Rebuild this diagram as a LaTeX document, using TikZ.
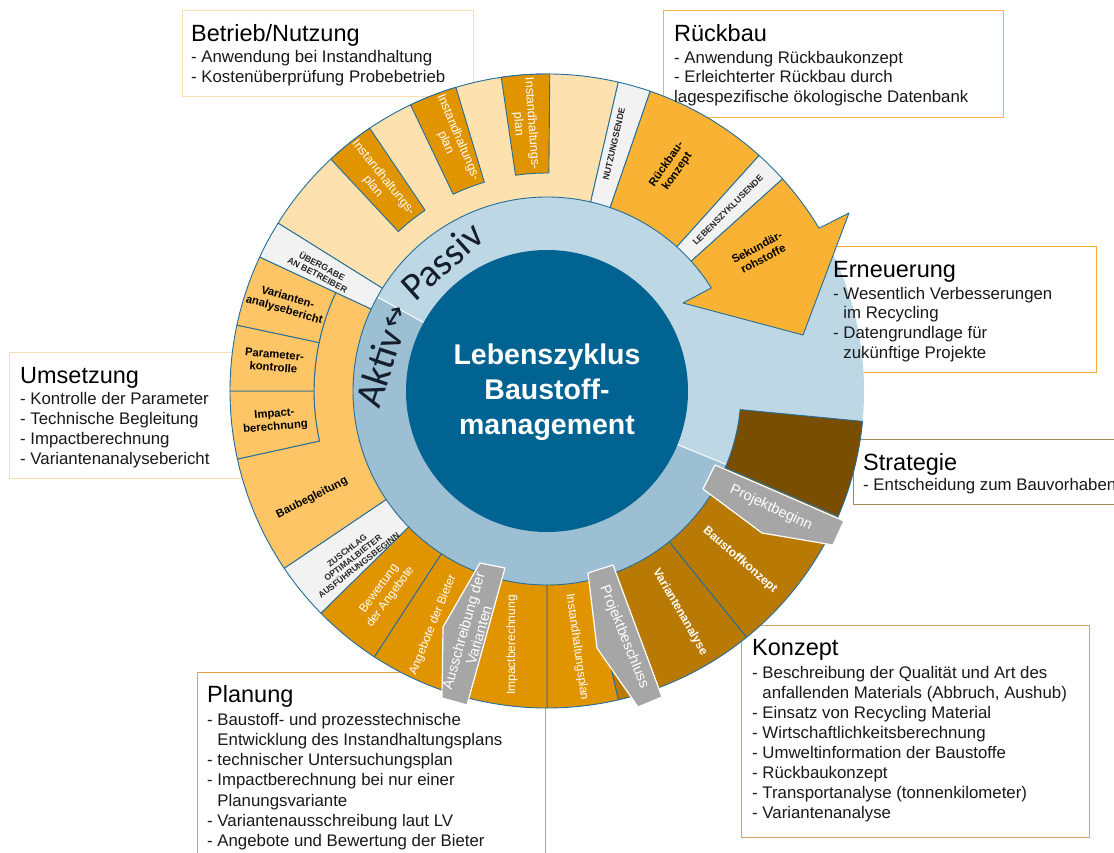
\documentclass[tikz,border=0pt]{standalone}
\usepackage{fontspec}
\setmainfont{Liberation Sans}
\newfontfamily\dejavu{DejaVu Sans}
\newfontfamily\carl{Carlito}
\definecolor{darkblue}{RGB}{0,99,146}
\definecolor{lightblue}{RGB}{189,215,228}
\definecolor{aktivblue}{RGB}{157,191,211}
\definecolor{ringline}{RGB}{35,110,155}
\definecolor{peach}{RGB}{253,226,176}
\definecolor{deeporange}{RGB}{224,148,0}
\definecolor{midorange}{RGB}{249,178,51}
\definecolor{lightorange}{RGB}{253,197,102}
\definecolor{brownA}{RGB}{184,122,5}
\definecolor{brownB}{RGB}{122,78,0}
\definecolor{offwhite}{RGB}{242,242,242}
\definecolor{tagGray}{RGB}{166,166,166}
\definecolor{bNutz}{RGB}{250,222,178}
\definecolor{bRueck}{RGB}{247,180,70}
\definecolor{bErn}{RGB}{245,172,50}
\definecolor{bStrat}{RGB}{165,135,85}
\definecolor{bKonz}{RGB}{205,165,90}
\definecolor{bPlan}{RGB}{230,160,60}
\definecolor{bUms}{RGB}{250,220,175}
\definecolor{passivtxt}{RGB}{20,30,45}
\newcommand\ringseg[5]{\filldraw[seg, fill=#5] (#1:#3) arc[start angle=#1, end angle=#2, radius=#3] -- (#2:#4) arc[start angle=#2, end angle=#1, radius=#4] -- cycle;}
\begin{document}
\begin{tikzpicture}[x=1pt,y=-1pt,
  seg/.style={draw=ringline, line width=0.9pt, line join=round},
  tag/.style={fill=tagGray, draw=white, line width=1.2pt, line join=round},
  tbox/.style={draw=#1, line width=1.3pt, fill=white, inner sep=0, anchor=north west},
  ttl/.style={anchor=base west, inner sep=0, font=\fontsize{23.5}{26}\selectfont, text=black},
  itm/.style={anchor=base west, inner sep=0, font=\fontsize{16.8}{20}\selectfont, text=black!90},
  lblB/.style={font=\bfseries\fontsize{11.3}{13}\selectfont, align=center, inner sep=0, text=black},
  lblS/.style={font=\bfseries\fontsize{8.8}{9.6}\selectfont, align=center, inner sep=0, text=black!85},
  lblW/.style={font=\fontsize{12}{14}\selectfont, align=center, inner sep=0, text=white},
  lblI/.style={font=\fontsize{12.5}{13.5}\selectfont, align=center, inner sep=0, text=white},
  lblWB/.style={font=\bfseries\fontsize{12}{13}\selectfont, align=center, inner sep=0, text=white},
  tagtxt/.style={font=\fontsize{14.5}{16}\selectfont, align=center, inner sep=0, text=white},
]
\useasboundingbox (0,0) rectangle (1114,853);
\clip (0,0) rectangle (1114,853);
\fill[white] (0,0) rectangle (1114,853);

% ---------- text boxes (under the ring) ----------
\node[tbox=bNutz, minimum width=291pt, minimum height=86pt] (boxNutz) at (182,10) {};
\node[tbox=bRueck, minimum width=340pt, minimum height=107pt] (boxRueck) at (663,10) {};
\node[tbox=bErn, minimum width=273pt, minimum height=126pt] (boxErn) at (823,246) {};
\node[tbox=bStrat, minimum width=300pt, minimum height=65pt] (boxStrat) at (853,439) {};
\node[tbox=bKonz, minimum width=348pt, minimum height=212pt] (boxKonz) at (741,625) {};
\node[tbox=bPlan, minimum width=348pt, minimum height=220pt] (boxPlan) at (197,672) {};
\node[tbox=bUms, minimum width=260pt, minimum height=126pt] (boxUms) at (9,352) {};

% ---------- ring ----------
\begin{scope}[shift={(547,391)}, yscale=-1]
  \fill[lightblue] (0,0) circle[radius=317];
  \fill[aktivblue] (0,0) -- (151:196) arc[start angle=151, end angle=337.7, radius=196] -- cycle;
  \draw[white, line width=1pt] (151:141) -- (151:196) (337.7:141) -- (337.7:196);
  \fill[darkblue] (0,0) circle[radius=141];
  % segments
  \ringseg{-23.3}{-5.5}{194}{317}{brownB}
  \ringseg{-51}{-23.3}{194}{317}{brownA}
  \ringseg{-77}{-51}{194}{317}{brownA}
  \ringseg{-90}{-77}{194}{317}{deeporange}
  \ringseg{-108}{-90}{194}{317}{deeporange}
  \ringseg{-123}{-108}{194}{317}{deeporange}
  \ringseg{-135.5}{-123}{194}{317}{deeporange}
  \ringseg{-146}{-135.5}{194}{317}{offwhite}
  \filldraw[seg, fill=lightorange] (155:194) arc[start angle=155, end angle=214, radius=194] -- (214:317) arc[start angle=214, end angle=192.4, radius=317] -- (192.4:233) arc[start angle=192.4, end angle=155, radius=233] -- cycle;
  \ringseg{180}{192.4}{233}{317}{lightorange}
  \ringseg{168}{180}{233}{317}{lightorange}
  \ringseg{155}{168}{233}{317}{lightorange}
  \ringseg{148}{155}{194}{317}{offwhite}
  \ringseg{77}{148}{194}{317}{peach}
  \ringseg{89.5}{98.3}{218}{317}{deeporange}
  \ringseg{106.7}{115.5}{218}{317}{deeporange}
  \ringseg{124}{133}{218}{317}{deeporange}
  \ringseg{71}{77}{194}{317}{offwhite}
  \ringseg{48}{71}{194}{317}{midorange}
  \ringseg{42}{48}{194}{317}{offwhite}
  \filldraw[seg, fill=midorange] (42:317) arc[start angle=42, end angle=30.9, radius=317] -- (302,178) -- (256,56) -- (136,88) -- (32.1:194) arc[start angle=32.1, end angle=42, radius=194] -- cycle;
  % grey milestone tags
  \filldraw[tag] (168,-74) -- (156,-98) -- (215,-142) -- (286,-154) -- (297,-130) -- cycle;
  \filldraw[tag] (-67,-172) -- (-42,-177) -- (-80,-314) -- (-105,-307) -- (-104,-236) -- cycle;
  \filldraw[tag] (41,-182) -- (66,-174) -- (115,-306) -- (91,-316) -- (50,-257) -- cycle;
\end{scope}

% ---------- centre ----------
\node[font=\bfseries\fontsize{28.5}{35}\selectfont, text=white, align=center] (titel) at (547,392) {Lebenszyklus\\Baustoff-\\management};
\node[font=\carl\fontsize{39}{40}\selectfont, text=passivtxt, rotate=42] (passiv) at (442,261) {Passiv};
\node[font=\dejavu\fontsize{28}{28}\selectfont, text=passivtxt, rotate=58] (pfeil) at (395,318) {↔};
\node[font=\carl\fontsize{39}{40}\selectfont, text=passivtxt, rotate=72] (aktiv) at (379,368) {Aktiv};

% ---------- ring labels ----------
\node[lblI, rotate=-86] (ih1) at (525,124) {Instandhaltungs-\\plan};
\node[lblI, rotate=-67] (ih2) at (452,140) {Instandhaltungs-\\plan};
\node[lblI, rotate=-51] (ih3) at (378,182) {Instandhaltungs-\\plan};
\node[lblS, rotate=77] (nutzE) at (614,144) {NUTZUNGSENDE};
\node[lblB, rotate=55] (rueckK) at (672,168) {Rückbau-\\konzept};
\node[lblS, rotate=45] (lebE) at (728,210) {LEBENSZYKLUSENDE};
\node[lblB, rotate=28] (sek) at (760,253) {Sekundär-\\rohstoffe};
\node[lblS, rotate=-28] (ueb) at (320,270) {ÜBERGABE\\AN BETREIBER};
\node[lblB, rotate=-16] (varB) at (286,304) {Varianten-\\analysebericht};
\node[lblB, rotate=-5] (parK) at (274,361) {Parameter-\\kontrolle};
\node[lblB, rotate=5] (impL) at (275,421) {Impact-\\berechnung};
\node[lblB, rotate=27] (baub) at (312,498) {Baubegleitung};
\node[lblS, font=\bfseries\fontsize{8.6}{9.6}\selectfont, rotate=38] (zus) at (353,558) {ZUSCHLAG\\OPTIMALBIETER\\AUSFÜHRUNGSBEGINN};
\node[lblW, rotate=54] (bew) at (385,593) {Bewertung\\der Angebote};
\node[lblW, rotate=68] (ang) at (433,625) {Angebote der Bieter};
\node[tagtxt, rotate=74] (aus) at (471,633) {Ausschreibung der\\Varianten};
\node[lblW, rotate=90] (impB) at (512,645) {Impactberechnung};
\node[lblW, rotate=-82] (insB) at (577,647) {Instandhaltungsplan};
\node[tagtxt, rotate=-68] (pbs) at (624,637) {Projektbeschluss};
\node[lblWB, rotate=-60] (vana) at (680,612) {Variantenanalyse};
\node[lblWB, rotate=-41] (bsk) at (740,560) {Baustoffkonzept};
\node[tagtxt, rotate=-25] (pbg) at (771,508) {Projektbeginn};

% ---------- box texts ----------
\node[ttl] (tNutz) at (191,42) {Betrieb/Nutzung};
\foreach \t [count=\i from 0] in {- Anwendung bei Instandhaltung, - Kostenüberprüfung Probebetrieb}
  \node[itm] (nutz\i) at (191,{63+19.5*\i}) {\t};

\node[ttl] (tRueck) at (674,42) {Rückbau};
\foreach \t [count=\i from 0] in {- Anwendung Rückbaukonzept, - Erleichterter Rückbau durch, lagespezifische ökologische Datenbank}
  \node[itm] (rueck\i) at (674,{63.3+19.6*\i}) {\t};

\node[ttl] (tErn) at (833,277) {Erneuerung};
\foreach \t [count=\i from 0] in {- Wesentlich Verbesserungen, \hphantom{- }im Recycling, - Datengrundlage für, \hphantom{- }zukünftige Projekte}
  \node[itm] (ern\i) at (833,{299+19.8*\i}) {\t};

\node[ttl] (tStrat) at (863,470) {Strategie};
\node[itm] (strat0) at (863,490) {- Entscheidung zum Bauvorhaben};

\node[ttl] (tKonz) at (752,655) {Konzept};
\foreach \t [count=\i from 0] in {- Beschreibung der Qualität und Art des, {\hphantom{- }anfallenden Materials (Abbruch, Aushub)}, - Einsatz von Recycling Material, - Wirtschaftlichkeitsberechnung, - Umweltinformation der Baustoffe, - Rückbaukonzept, - Transportanalyse (tonnenkilometer), - Variantenanalyse}
  \node[itm] (konz\i) at (752,{678.3+20*\i}) {\t};

\node[ttl] (tUms) at (20,383) {Umsetzung};
\foreach \t [count=\i from 0] in {- Kontrolle der Parameter, - Technische Begleitung, - Impactberechnung, - Variantenanalysebericht}
  \node[itm] (ums\i) at (20,{404.3+20*\i}) {\t};

\node[ttl] (tPlan) at (207,702) {Planung};
\foreach \t [count=\i from 0] in {- Baustoff- und prozesstechnische, \hphantom{- }Entwicklung des Instandhaltungsplans, - technischer Untersuchungsplan, - Impactberechnung bei nur einer, \hphantom{- }Planungsvariante, - Variantenausschreibung laut LV, - Angebote und Bewertung der Bieter}
  \node[itm] (plan\i) at (207,{725+20.3*\i}) {\t};
\end{tikzpicture}
\end{document}
